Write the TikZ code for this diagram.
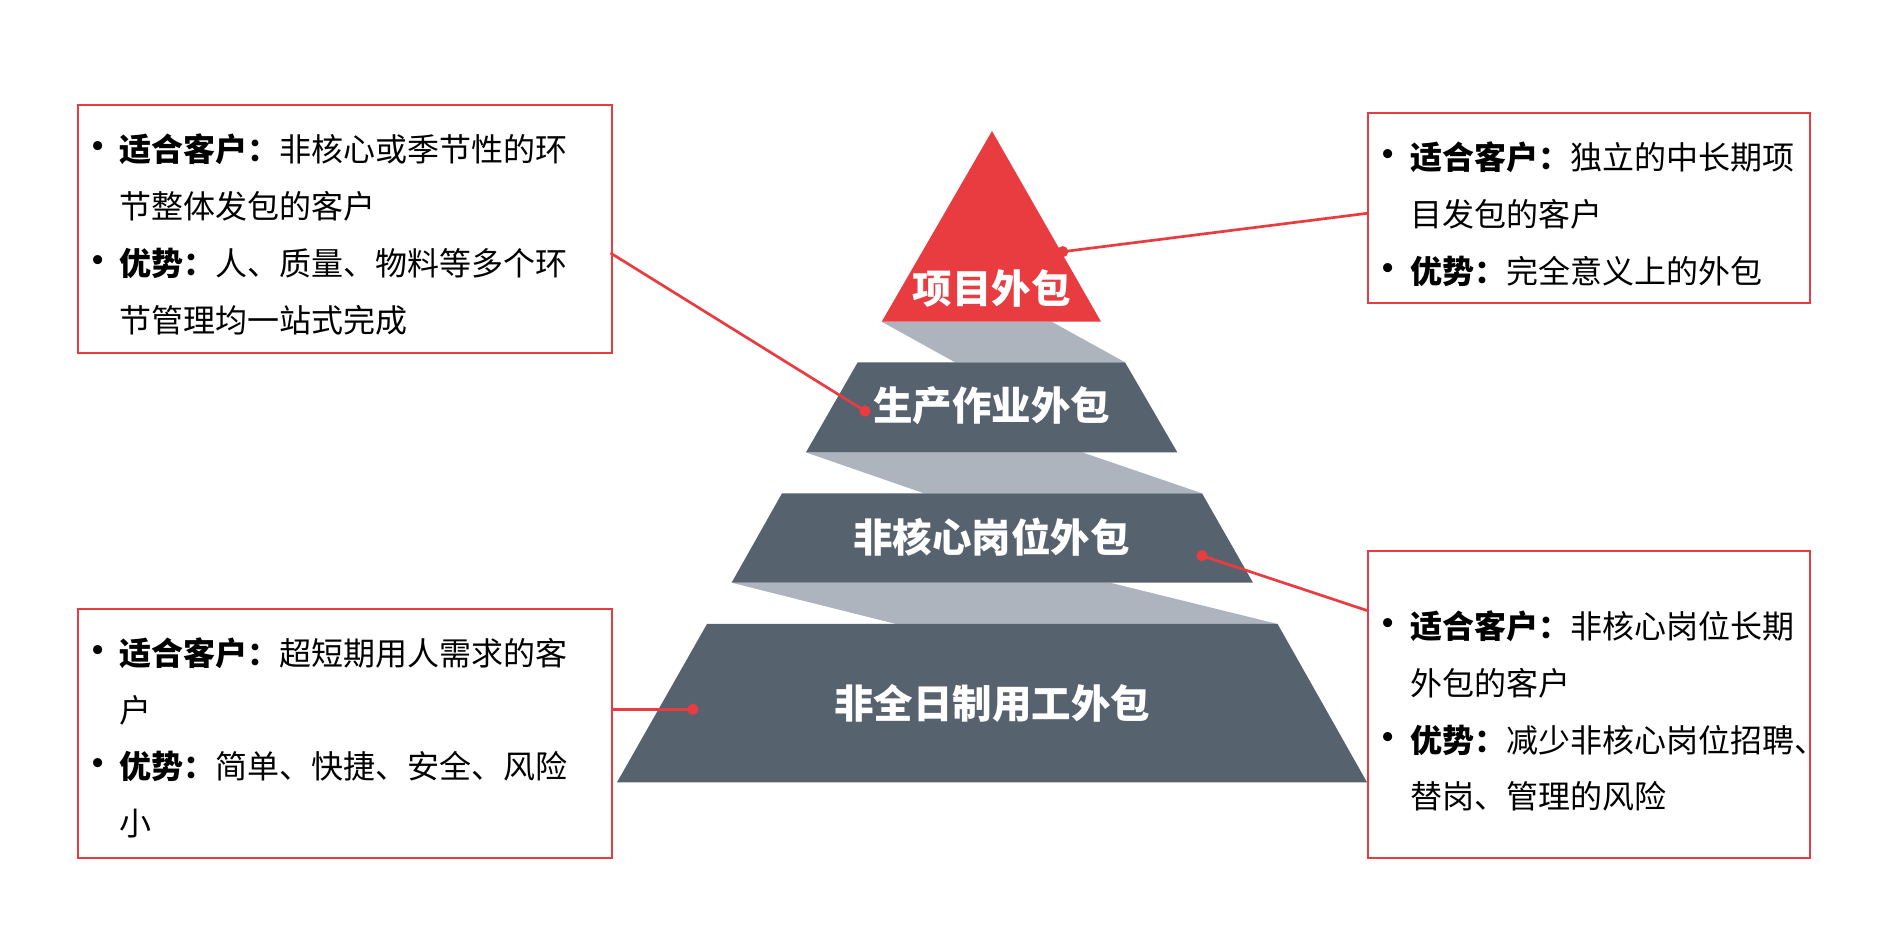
\documentclass[tikz,border=0pt]{standalone}
\usepackage{fontspec}
\setmainfont{Noto Sans CJK SC}
\definecolor{pred}{HTML}{E83C40}
\definecolor{slate}{HTML}{57626F}
\definecolor{lightslate}{HTML}{ADB4BE}
\newcommand{\bul}{\llap{\makebox[22pt][c]{\raisebox{-0.5pt}{\scalebox{1.35}{•}}}}}
\begin{document}
\begin{tikzpicture}[x=0.5pt,y=-0.5pt,
  tier/.style={fill=slate},
  band/.style={fill=lightslate},
  frame/.style={draw=pred, line width=1pt, fill=white, inner sep=0pt, anchor=north west},
  tierlabel/.style={text=white, font=\fontsize{19.75pt}{22pt}\selectfont\bfseries, inner sep=0pt},
  desc/.style={font=\fontsize{16pt}{28.35pt}\selectfont, align=left, inner sep=0pt, anchor=base west, text=black},
  link/.style={draw=pred, line width=1.35pt},
  dot/.style={circle, fill=pred, inner sep=0pt, minimum size=5.6pt}
]
\useasboundingbox (0,0) rectangle (1890,951);
\fill[white] (0,0) rectangle (1890,951);

% boxes
\node[frame, minimum width=266.55pt, minimum height=123.85pt] (ltbox) at (77.4,104) {};
\node[frame, minimum width=220.85pt, minimum height=95pt] (rtbox) at (1367.3,112.3) {};
\node[frame, minimum width=266.55pt, minimum height=124.5pt] (lbbox) at (77.4,608) {};
\node[frame, minimum width=220.85pt, minimum height=153.35pt] (rbbox) at (1367.3,550) {};

% pyramid bands (behind)
\fill[band] (881.7,321.7) -- (1051.7,321.7) -- (1125,362.3) -- (955,362.3) -- cycle;
\fill[band] (805.6,452.3) -- (1082,452.3) -- (1202,493.3) -- (924,493.3) -- cycle;
\fill[band] (731.6,582.7) -- (1110,582.7) -- (1277.6,624) -- (896,624) -- cycle;

% pyramid tiers
\fill[pred] (992,131) -- (1101,321.7) -- (881.7,321.7) -- cycle;
\fill[tier] (857.7,362.3) -- (1125,362.3) -- (1177.3,452.3) -- (806,452.3) -- cycle;
\fill[tier] (782,493.3) -- (1202,493.3) -- (1253,582.7) -- (731.6,582.7) -- cycle;
\fill[tier] (707,624) -- (1277.6,624) -- (1367,782.3) -- (617,782.3) -- cycle;

% tier labels
\node[tierlabel] (t1) at (991.7,288) {项目外包};
\node[tierlabel] (t2) at (991.5,406) {生产作业外包};
\node[tierlabel] (t3) at (991.5,537) {非核心岗位外包};
\node[tierlabel] (t4) at (992,703) {非全日制用工外包};

% box texts (anchor = baseline of the last line)
\node[desc] (ltt) at (119.2,332.1) {\bul\textbf{适合客户：}非核心或季节性的环\\节整体发包的客户\\\bul\textbf{优势：}人、质量、物料等多个环\\节管理均一站式完成};
\node[desc] (rtt) at (1410,283.4) {\bul\textbf{适合客户：}独立的中长期项\\目发包的客户\\\bul\textbf{优势：}完全意义上的外包};
\node[desc] (lbt) at (119.2,835.5) {\bul\textbf{适合客户：}超短期用人需求的客\\户\\\bul\textbf{优势：}简单、快捷、安全、风险\\小};
\node[desc] (rbt) at (1410,808.7) {\bul\textbf{适合客户：}非核心岗位长期\\外包的客户\\\bul\textbf{优势：}减少非核心岗位招聘\makebox[0.4em][l]{、}\\替岗、管理的风险};

% connectors
\coordinate (c1) at (610.5,253);
\coordinate (c2) at (1367.3,213.3);
\coordinate (c3) at (1367,610.5);
\coordinate (c4) at (610.5,709.3);
\node[dot] (d1) at (865,411) {};
\node[dot] (d2) at (1062.7,251.7) {};
\node[dot] (d3) at (1202,555.7) {};
\node[dot] (d4) at (692.9,709.3) {};
\draw[link] (c1) -- (d1.center);
\draw[link] (c2) -- (d2.center);
\draw[link] (c3) -- (d3.center);
\draw[link] (c4) -- (d4.center);
\end{tikzpicture}
\end{document}
